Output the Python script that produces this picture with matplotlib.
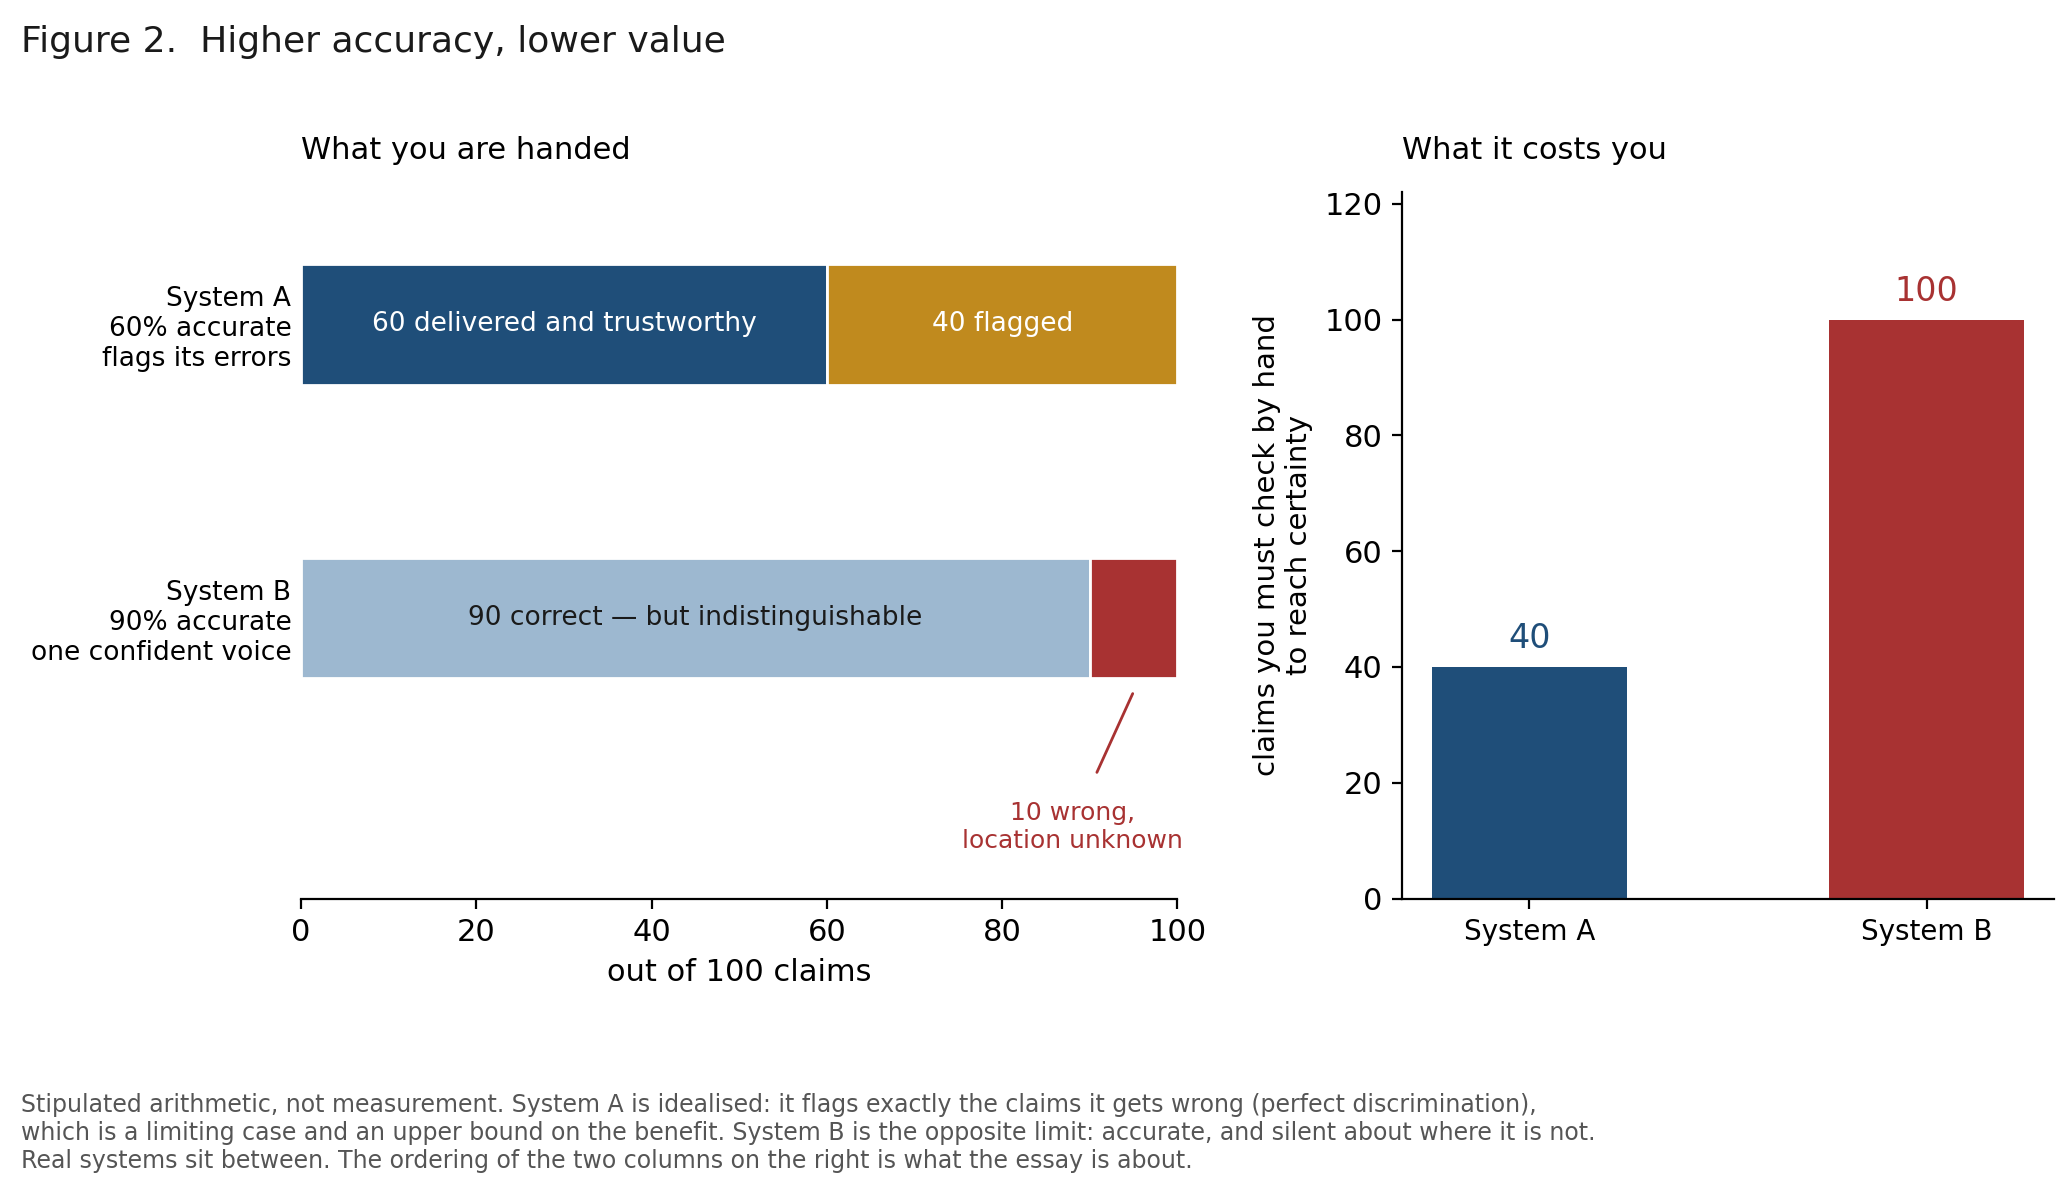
import matplotlib.pyplot as plt

# Data
systems = ['System A', 'System B']
row_labels = ['System A\n60% accurate\nflags its errors', 'System B\n90% accurate\none confident voice']
a_parts = [60, 40]
b_parts = [90, 10]
cost = [40, 100]

navy = '#1f4e79'
gold = '#c08a1e'
light = '#9db8d0'
red = '#a83232'

fig = plt.figure(figsize=(10.31, 5.935), dpi=200)

# left: stacked bars
ax1 = fig.add_axes([0.146, 0.243, 0.425, 0.595])
ax1.barh(1, a_parts[0], height=0.41, color=navy, edgecolor='white', linewidth=1)
ax1.barh(1, a_parts[1], left=a_parts[0], height=0.41, color=gold, edgecolor='white', linewidth=1)
ax1.barh(0, b_parts[0], height=0.41, color=light, edgecolor='white', linewidth=1)
ax1.barh(0, b_parts[1], left=b_parts[0], height=0.41, color=red, edgecolor='white', linewidth=1)
ax1.text(a_parts[0] / 2, 1, '60 delivered and trustworthy', color='white', ha='center', va='center', fontsize=9.5)
ax1.text(a_parts[0] + a_parts[1] / 2, 1, '40 flagged', color='white', ha='center', va='center', fontsize=9.5)
ax1.text(b_parts[0] / 2, 0, '90 correct \u2014 but indistinguishable', color='#1a1a1a', ha='center', va='center', fontsize=9.5)
ax1.annotate('10 wrong,\nlocation unknown', xy=(94.9, -0.257), xytext=(88, -0.71),
             ha='center', va='center', color=red, fontsize=9,
             arrowprops=dict(arrowstyle='-', color=red, lw=1, shrinkB=0, shrinkA=9))
ax1.set_xlim(0, 100)
ax1.set_ylim(-0.955, 1.45)
ax1.set_yticks([1, 0])
ax1.set_yticklabels(row_labels, fontsize=9.5)
ax1.tick_params(axis='y', length=0)
ax1.tick_params(axis='x', labelsize=11)
ax1.set_xlabel('out of 100 claims', fontsize=11)
for s in ['top', 'right', 'left']:
    ax1.spines[s].set_visible(False)
ax1.set_title('What you are handed', loc='left', fontsize=11, pad=12)

# right: cost
ax2 = fig.add_axes([0.680, 0.243, 0.316, 0.595])
bars = ax2.bar([0, 1], cost, width=0.49, color=[navy, red])
for i, v in enumerate(cost):
    ax2.text(i, v + 2, str(v), ha='center', va='bottom', color=[navy, red][i], fontsize=12)
ax2.set_xlim(-0.32, 1.32)
ax2.set_ylim(0, 122)
ax2.set_xticks([0, 1])
ax2.set_xticklabels(systems, fontsize=10)
ax2.tick_params(axis='y', labelsize=11)
ax2.set_ylabel('claims you must check by hand\nto reach certainty', fontsize=10.5)
for s in ['top', 'right']:
    ax2.spines[s].set_visible(False)
ax2.set_title('What it costs you', loc='left', fontsize=11, pad=12)

fig.text(0.01, 0.965, 'Figure 2.  Higher accuracy, lower value', fontsize=13, va='center', color='#1a1a1a')
fig.text(0.01, 0.012,
         'Stipulated arithmetic, not measurement. System A is idealised: it flags exactly the claims it gets wrong (perfect discrimination),\n'
         'which is a limiting case and an upper bound on the benefit. System B is the opposite limit: accurate, and silent about where it is not.\n'
         'Real systems sit between. The ordering of the two columns on the right is what the essay is about.',
         fontsize=8.5, color='#555555', va='bottom')

fig.savefig('out.png', dpi=200)
